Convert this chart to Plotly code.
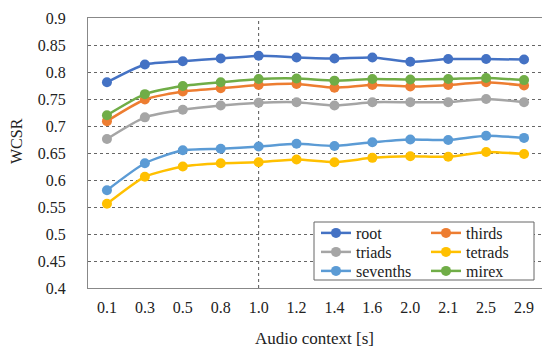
import plotly.graph_objects as go

contexts = ["0.1", "0.3", "0.5", "0.8", "1.0", "1.2", "1.4", "1.6", "2.0", "2.1", "2.5", "2.9"]
root = [0.781, 0.814, 0.820, 0.825, 0.830, 0.827, 0.825, 0.827, 0.819, 0.824, 0.824, 0.823]
thirds = [0.709, 0.749, 0.764, 0.770, 0.776, 0.778, 0.771, 0.776, 0.773, 0.776, 0.781, 0.775]
triads = [0.676, 0.716, 0.730, 0.738, 0.743, 0.744, 0.738, 0.744, 0.744, 0.744, 0.750, 0.744]
tetrads = [0.556, 0.606, 0.625, 0.631, 0.633, 0.638, 0.633, 0.641, 0.644, 0.643, 0.652, 0.648]
sevenths = [0.581, 0.631, 0.655, 0.658, 0.662, 0.667, 0.663, 0.670, 0.675, 0.674, 0.682, 0.678]
mirex = [0.720, 0.759, 0.774, 0.781, 0.787, 0.788, 0.784, 0.787, 0.786, 0.787, 0.789, 0.785]

x_title = "Audio context [s]"
y_title = "WCSR"

# (name, values, color, legend row)
series = [
    ("root", root, "#4472C4", "legend"),
    ("thirds", thirds, "#ED7D31", "legend"),
    ("triads", triads, "#A5A5A5", "legend2"),
    ("tetrads", tetrads, "#FFC000", "legend2"),
    ("sevenths", sevenths, "#5B9BD5", "legend3"),
    ("mirex", mirex, "#70AD47", "legend3"),
]

FONT = "Liberation Serif"

fig = go.Figure()
for name, vals, color, leg in series:
    fig.add_trace(go.Scatter(
        x=contexts, y=vals, name=name, mode="lines+markers", legend=leg,
        line=dict(color=color, width=2.5, shape="spline", smoothing=0.6),
        marker=dict(color=color, size=10),
    ))

vline_idx = contexts.index("1.0")
fig.add_shape(type="line", xref="x", yref="paper", x0=vline_idx, x1=vline_idx, y0=0, y1=1,
              line=dict(color="#555555", width=1, dash="dot"), layer="below")

# plot area in page pixels: x 88..543, y 18..288 (page has an 8px body margin)
PW, PH = 455, 270
def px_x(x):
    return (x - 88) / PW
def px_y(y):
    return (288 - y) / PH

fig.add_shape(type="rect", xref="paper", yref="paper",
              x0=px_x(314), x1=px_x(534), y0=px_y(280), y1=px_y(222),
              line=dict(color="#666666", width=1), fillcolor="white", layer="above")

fig.add_annotation(text=y_title, xref="paper", yref="paper", x=px_x(16.5), y=px_y(141.5),
                   textangle=-90, showarrow=False, xanchor="center", yanchor="middle",
                   font=dict(family=FONT, size=16, color="#222222"))
fig.add_annotation(text=x_title, xref="paper", yref="paper", x=px_x(314), y=px_y(338),
                   showarrow=False, xanchor="center", yanchor="middle",
                   font=dict(family=FONT, size=17, color="#222222"))

leg_common = dict(
    orientation="h", yanchor="middle", xanchor="left",
    bgcolor="rgba(0,0,0,0)", borderwidth=0,
    font=dict(family=FONT, size=16, color="#222222"),
    itemwidth=30, tracegroupgap=0,
    entrywidth=65, entrywidthmode="pixels",
)

fig.update_layout(
    width=542, height=343,
    margin=dict(l=80, r=7, t=10, b=63),
    paper_bgcolor="white", plot_bgcolor="white",
    font=dict(family=FONT, size=16, color="#222222"),
    showlegend=True,
    legend=dict(leg_common, x=px_x(316), y=px_y(233)),
    legend2=dict(leg_common, x=px_x(316), y=px_y(252)),
    legend3=dict(leg_common, x=px_x(316), y=px_y(271)),
    xaxis=dict(
        type="category", automargin=False,
        range=[-0.5, len(contexts) - 0.5],
        showgrid=False, showline=True, linecolor="#888888", linewidth=1, mirror=True,
        ticks="", tickfont=dict(family=FONT, size=16), ticklabelstandoff=5,
    ),
    yaxis=dict(
        automargin=False,
        range=[0.4, 0.9], dtick=0.05, tickformat="~g",
        showgrid=True, gridcolor="#666666", griddash="dot", gridwidth=1,
        showline=True, linecolor="#888888", linewidth=1, mirror=True,
        ticks="", tickfont=dict(family=FONT, size=16), zeroline=False,
        ticklabelstandoff=18,
    ),
)

fig.write_html("out.html")
